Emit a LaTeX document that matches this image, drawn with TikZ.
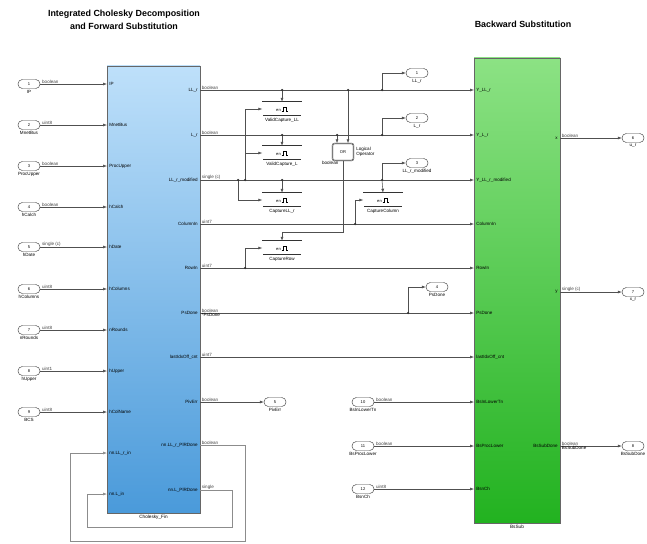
\documentclass[tikz,border=0pt]{standalone}
\usepackage{fontspec}
\setsansfont{Liberation Sans}
\usetikzlibrary{arrows.meta,positioning}

\definecolor{cholTop}{RGB}{190,224,250}
\definecolor{cholBot}{RGB}{74,154,218}
\definecolor{bsTop}{RGB}{140,226,132}
\definecolor{bsBot}{RGB}{34,178,32}
\definecolor{wireC}{RGB}{80,80,80}

\newcommand{\enpulse}{\tikz[baseline=0pt,x=0.3mm,y=0.3mm]\draw[line width=0.25pt] (0,0) -- (1.5,0) -- (1.5,4) -- (4.5,4) -- (4.5,0) -- (6,0);}

\tikzset{
  sig/.style={draw=wireC, line width=0.45pt, -{Latex[length=1.2mm,width=0.9mm]}},
  wire/.style={draw=wireC, line width=0.45pt},
  loopw/.style={sig, draw=black!45},
  port/.style={draw=black!75, fill=white, rounded corners=1.3mm, minimum width=6.6mm, minimum height=2.7mm, inner sep=0pt, font=\fontsize{3.5}{3.5}\selectfont\sffamily},
  plab/.style={font=\fontsize{3.9}{4.1}\selectfont\sffamily, inner sep=0.3pt},
  typ/.style={plab, anchor=south west, xshift=0.4mm, text=black!75},
  pinl/.style={plab, anchor=west, xshift=0.5mm},
  poutl/.style={plab, anchor=east, xshift=-0.5mm},
  chol/.style={draw=black!60, top color=cholTop, bottom color=cholBot, minimum width=27.9mm, minimum height=134.1mm, inner sep=0pt},
  bsub/.style={draw=black!60, top color=bsTop, bottom color=bsBot, minimum width=25.8mm, minimum height=139.5mm, inner sep=0pt},
  capbox/.style={draw=black!80, double=white, double distance=0.3pt, fill=white, minimum width=11.7mm, minimum height=4.2mm, inner sep=0pt, font=\fontsize{3.5}{3.5}\selectfont\sffamily},
  blab/.style={font=\fontsize{4}{4.5}\selectfont\sffamily, inner sep=0.5pt},
  ttl/.style={font=\fontsize{7.6}{11}\selectfont\sffamily\bfseries, align=center},
  jdot/.style={circle, fill=black!80, inner sep=0pt, minimum size=0.75mm},
}

\begin{document}
\begin{tikzpicture}[x=0.3mm, y=-0.3mm, font=\sffamily]
\path[use as bounding box] (0,0) rectangle (647,544);

% titles
\node[ttl] (ttlF) at (124,20) {Integrated Cholesky Decomposition\\and Forward Substitution};
\node[ttl] (ttlB) at (523,24) {Backward Substitution};

% the two subsystems
\node[chol] (chol) at (153.5,289.5) {};
\node[blab, below=0.2mm of chol] (cholL) {Cholesky\_Fin};
\node[bsub] (bs) at (517,290.5) {};
\node[blab, below=0.2mm of bs] (bsL) {BsSub};

% inports of Cholesky_Fin
\foreach \n/\y/\nm/\tp/\pi in {1/84/IP/boolean/IP, 2/125/MnetBus/uint8/MnetBus,
    3/166/ProcUpper/boolean/ProcUpper, 4/207/hCalch/boolean/hCalch,
    5/247/hDate/single (c)/hDate, 6/289/hColumns/uint8/hColumns,
    7/330/nRounds/uint8/nRounds, 8/371/hUpper/uint1/hUpper, 9/412/BCS/uint8/hColName}{
  \node[port] (ip\n) at (29,\y) {\n};
  \node[plab, below=0.3mm of ip\n] (ipl\n) {\nm};
  \coordinate (ci\n) at (107,\y);
  \node[pinl] (cil\n) at (ci\n) {\pi};
  \draw[sig] (ip\n) -- (ci\n) node[typ, pos=0] {\tp};
}
\coordinate (ci10) at (107,453);
\coordinate (ci11) at (107,494);
\node[pinl] (cil10) at (ci10) {nn.LL\_r\_in};
\node[pinl] (cil11) at (ci11) {nn.L\_in};

% buses from Cholesky_Fin to BsSub
\foreach \n/\y/\po/\tp/\pi in {1/90/LL\_r/boolean/Y\_LL\_r, 2/135/L\_r/boolean/Y\_L\_r,
    3/180/LL\_r\_modified/single (c)/Y\_LL\_r\_modified, 4/224/ColumnIn/uint7/ColumnIn,
    5/268/RowIn/uint7/RowIn, 6/313/PsDone/boolean/PsDone, 7/357/lastIdxOff\_cnt/uint7/lastIdxOff\_cnt}{
  \coordinate (co\n) at (200,\y);
  \coordinate (bi\n) at (474,\y);
  \node[poutl] (col\n) at (co\n) {\po};
  \node[pinl] (bil\n) at (bi\n) {\pi};
  \draw[sig] (co\n) -- (bi\n) node[typ, pos=0] {\tp};
}
\node[plab, anchor=north west, xshift=0.4mm] (psd) at (co6) {*PsDone};

% other outputs of Cholesky_Fin
\coordinate (co8) at (200,402);
\coordinate (co9) at (200,445);
\coordinate (co10) at (200,490);
\node[poutl] (col8) at (co8) {PivErr};
\node[poutl] (col9) at (co9) {nn.LL\_r\_PlRDone};
\node[poutl] (col10) at (co10) {nn.L\_PlRDone};

% outports in the middle
\foreach \n/\x/\y/\nm in {1/417/73/LL\_r, 2/417/118/L\_r, 3/417/163/LL\_r\_modified, 4/437/287/PsDone, 5/275/402/PivErr}{
  \node[port] (op\n) at (\x,\y) {\n};
  \node[plab, below=0.3mm of op\n] (opl\n) {\nm};
}
\draw[sig] (co8) -- (op5) node[typ, pos=0] {boolean};

% feedback loops
\coordinate (lpO) at (245,541);
\coordinate (lpOl) at (70,541);
\coordinate (lpI) at (232,527);
\coordinate (lpIl) at (87,527);
\draw[loopw] (co9) -| (lpO) -- (lpOl) |- (ci10);
\draw[loopw] (co10) -| (lpI) -- (lpIl) |- (ci11);
\path (co9) node[typ] (t9) {boolean};
\path (co10) node[typ] (t10) {single};

% inputs of BsSub
\foreach \n/\k/\y/\nm/\tp in {8/10/402/BsInLowerTn/boolean, 9/11/446/BsProcLower/boolean, 10/12/489/BsnCh/uint8}{
  \node[port] (ip\k) at (363,\y) {\k};
  \node[plab, below=0.3mm of ip\k] (ipl\k) {\nm};
  \coordinate (bi\n) at (474,\y);
  \node[pinl] (bil\n) at (bi\n) {\nm};
  \draw[sig] (ip\k) -- (bi\n) node[typ, pos=0] {\tp};
}

% outputs of BsSub
\foreach \n/\k/\y/\po/\nm/\tp in {1/6/138/x/u\_r/boolean, 2/7/292/y/x\_r/single (c), 3/8/446/BsSubDone/BsSubDone/boolean}{
  \coordinate (bo\n) at (560,\y);
  \node[poutl] (bol\n) at (bo\n) {\po};
  \node[port] (op\k) at (633,\y) {\k};
  \node[plab, below=0.3mm of op\k] (opl\k) {\nm};
  \draw[sig] (bo\n) -- (op\k) node[typ, pos=0] {\tp};
}
\node[plab, anchor=north west, xshift=0.4mm] (bsd) at (bo3) {BsSubDone};

% capture blocks and logical operator
\node[capbox] (vcLL) at (282,109) {en\,\enpulse\hspace{5mm}};
\node[capbox] (vcL) at (282,153) {en\,\enpulse\hspace{5mm}};
\node[capbox] (capLL) at (282,200) {en\,\enpulse\hspace{5mm}};
\node[capbox] (capCol) at (383,200) {en\,\enpulse\hspace{5mm}};
\node[capbox] (capRow) at (282,248) {en\,\enpulse\hspace{5mm}};
\node[plab, below=0.3mm of vcLL] (vcLLl) {ValidCapture\_LL};
\node[plab, below=0.3mm of vcL] (vcLl) {ValidCapture\_L};
\node[plab, below=0.3mm of capLL] (capLLl) {CaptureLL\_r};
\node[plab, below=0.3mm of capCol] (capColl) {CaptureColumn};
\node[plab, below=0.3mm of capRow] (capRowl) {CaptureRow};
\node[capbox, rounded corners=0.6mm, minimum width=6.3mm, minimum height=5.1mm] (or1) at (343,152) {OR};
\node[plab, right=0.6mm of or1, align=left] (or1l) {Logical\\Operator};
\node[plab, below left=0mm and -2mm of or1] (or1t) {boolean};

% branch points
\coordinate (b1) at (382,90);
\coordinate (b2) at (382,135);
\coordinate (b3) at (382,180);
\coordinate (b4) at (408,313);
\coordinate (jA) at (245,180);
\coordinate (jB) at (238,180);
\coordinate (jC) at (355,224);
\coordinate (jD) at (245,268);
\coordinate (jE) at (337,135);
\coordinate (jF) at (348,90);
\coordinate (orbend) at (343,232);

\draw[sig] (b1) |- (op1);
\draw[sig] (b2) |- (op2);
\draw[sig] (b3) |- (op3);
\draw[sig] (b3) -- (capCol.north);
\draw[sig] (b4) |- (op4);
\draw[sig] (vcLL.north |- co1) -- (vcLL.north);
\draw[sig] (vcL.north |- co2) -- (vcL.north);
\draw[sig] (capLL.north |- co3) -- (capLL.north);
\draw[sig] (jA) |- (vcLL.west);
\draw[sig] (jA) |- (vcL.west);
\draw[sig] (jB) |- (capLL.west);
\draw[sig] (jC) |- (capCol.west);
\draw[sig] (jD) |- (capRow.west);
\draw[sig] (jE) -- (jE |- or1.north);
\draw[sig] (jF) -- (jF |- or1.north);
\draw[sig] (or1.south) -- (orbend) -| (capRow.north);

\foreach \j in {b1,b2,b3,b4,jA,jB,jC,jD,jE,jF}
  \node[jdot] (d\j) at (\j) {};
\node[jdot] (dv1) at (vcLL.north |- co1) {};
\node[jdot] (dv2) at (vcL.north |- co2) {};
\node[jdot] (dv3) at (capLL.north |- co3) {};
\end{tikzpicture}
\end{document}
